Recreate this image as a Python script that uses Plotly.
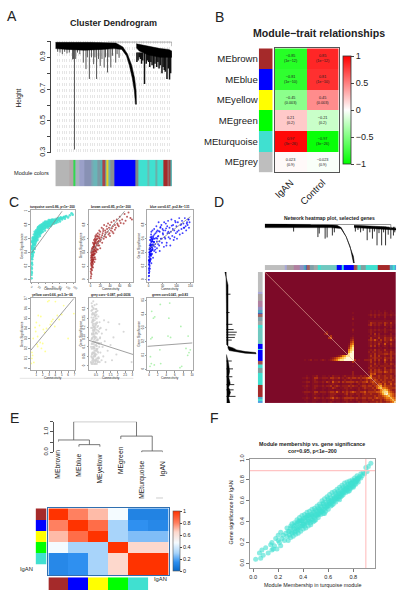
import plotly.graph_objects as go

W, H = 405, 600
FONT = "Liberation Sans, Arial, sans-serif"
INK = "#222222"

# ---------- panel A ----------
A_band_x = [0, 30, 52, 58, 62, 65.5, 68, 69.3, 69.6, 68.8, 67.8, 66, 63.5, 61, 57, 50, 40, 25, 10, 0]
A_band_h = [.995, .995, .99, .965, .92, .85, .77, .69, .605, .605, .69, .77, .85, .91, .95, .955, .95, .945, .95, .955]
A_right_x = [69.5, 73.1, 81.6, 90.1, 97.2, 100, 100, 90, 80, 72, 69.5]
A_right_h = [.985, .98, .97, .955, .95, .94, .9, .9, .915, .94, .96]
A_drop_x = [16.4, 14.8, 15.6, 17.5, 2, 4, 6, 8, 10, 12, 19, 21, 24, 26.3, 27.5, 29.2, 31, 32.9, 34, 35.4, 37, 38.5, 40, 41.9, 43, 44.8, 46, 47.6, 49, 51.8, 53, 54.7]
A_drop_h = [.32, .887, .89, .89, .935, .93, .92, .935, .925, .93, .93, .92, .867, .826, .9, .764, .9, .857, .9, .764, .89, .846, .89, .836, .9, .805, .9, .836, .91, .867, .92, .897]
A_rdrop_x = [70, 71, 72, 73, 74, 75, 76.5, 78, 79, 80, 81, 82, 83, 84.4, 85.5, 87, 88, 89, 90, 91.5, 92.5, 93.5, 94.3, 95.8, 97, 98, 99]
A_rdrop_h = [.87, .88, .9, .89, .86, .88, .733, .86, .88, .87, .84, .87, .85, .83, .86, .84, .87, .83, .85, .8, .84, .82, .81, .764, .83, .76, .8]
A_top_x = [45, 100, 100]
A_top_h = [.997, .997, .97]
A_colors = ["#b5b5b5", "#b2a8a8", "#32d850", "#a8b0c0", "#9aa0c8", "#8891b4", "#78a8b4", "#6ab5b8", "#7a9aa5", "#50b0b0",
            "#a8454a", "#60b8b8", "#e8d020", "#70b0b0", "#8a9090", "#0000ff", "#808888", "#40e0d0", "#70b8b0", "#40e0d0",
            "#6ab0a8", "#40e0d0", "#a52a2a", "#a06060", "#a52a2a", "#50b0b0"]
A_widths = [43, 10, 7, 13, 15, 20, 8, 12, 8, 7, 7, 5, 5, 8, 10, 65, 8, 27, 7, 18, 7, 16, 12, 7, 4, 4]

# ---------- panel B ----------
B_modules = ["MEbrown", "MEblue", "MEyellow", "MEgreen", "MEturquoise", "MEgrey"]
B_colors = ["#a52a2a", "#0000ff", "#ffff00", "#00ff00", "#40e0d0", "#bebebe"]
B_traits = ["IgAN", "Control"]
B_cor = [[-.85, .85], [-.81, .81], [-.45, .45], [.21, -.21], [.97, -.97], [.023, -.023]]
B_p = [["1e−12", "1e−12"], ["1e−10", "1e−10"], ["0.003", "0.003"], ["0.2", "0.2"], ["3e−26", "3e−26"], ["0.9", "0.9"]]

# ---------- panel C ----------
turq_x = [1,1,1,1,1,1,1,1,2,2,2,2,2,2,2,3,3,3,3,3,4,4,4,4,5,5,5,5,6,6,7,7,8,8,9,9,10,10,10,11,12,12,13,14,14,15,15,16,17,18,18,19,20,20,21,22,23,24,25,25,26,27,28,30,30,31,32,33,35,35,36,38,39,40,40,42,44,45,46,48,50,50,52,54,55,57,58,60,60,62,65,66,68,70,72,74,75,78,80,82,84,88,92,96,100,105,110,115,118,
          3,4,5,6,7,8,9,10,11,11,12,13,14,15,16,17,18,19,20,21,22,23,24,25,26,27,28,29,30,31,32,33,34,35,36,37,38,39,40,41,42,43,44,45,46,47,48,49,50,52,53,55,56,58,60,62,63,65,67,70,73,76,79,83,86,90,94,98,
          6,8,9,11,13,14,16,18,20,22,24,26,28,31,34,37,41,43,47,51,55,59,64,69,12,15,19,23,27,33,38,44,49,54,61]
turq_y = [.02,.07,.12,.18,.24,.3,.37,.45,.1,.16,.25,.33,.4,.48,.55,.22,.3,.38,.47,.57,.34,.42,.5,.6,.36,.44,.53,.62,.46,.56,.4,.6,.47,.66,.52,.62,.45,.58,.7,.64,.53,.68,.6,.56,.72,.63,.7,.66,.6,.58,.74,.68,.62,.77,.72,.66,.75,.7,.64,.79,.73,.77,.68,.72,.81,.76,.8,.7,.74,.83,.78,.8,.72,.76,.85,.82,.78,.85,.8,.76,.82,.87,.79,.84,.81,.86,.8,.83,.88,.85,.82,.88,.85,.83,.89,.86,.84,.9,.87,.85,.91,.88,.91,.89,.93,.91,.94,.97,.95,
          .45,.55,.5,.4,.52,.58,.6,.52,.6,.56,.6,.66,.62,.58,.7,.68,.64,.72,.7,.66,.74,.69,.76,.72,.68,.72,.75,.78,.74,.7,.76,.78,.74,.78,.82,.76,.8,.78,.8,.76,.78,.82,.82,.8,.84,.78,.82,.84,.78,.83,.81,.84,.82,.85,.85,.82,.87,.85,.85,.87,.87,.88,.89,.89,.9,.9,.92,.92,
          .51,.53,.57,.5,.56,.67,.62,.67,.74,.7,.67,.71,.71,.79,.8,.82,.84,.79,.81,.85,.78,.87,.83,.86,.63,.66,.76,.78,.79,.74,.77,.8,.8,.87,.86]
brown_x = [.5,.5,1,1,1,1,1.5,2,2,2,2,3,3,3,3,4,4,4,5,5,5,5,6,6,7,7,8,8,9,9,10,10,10,11,12,12,13,14,15,15,16,17,18,18,19,20,20,22,23,24,25,26,27,28,30,30,32,33,35,36,37,38,40,40,42,43,45,46,48,50,50,52,54,55,58,60,60,62,65,68,70,72,75,78,82,85,
           1.5,2.5,3,3.5,4,4.5,5,5.5,6,6.5,7,7.5,8,8.5,9,9.5,10,11,11.5,12.5,13,14,14.5,16,17,18.5,21,24,26,29,31,34,39,44,47,56,
           1,1.2,1.8,2.2,2.6,2.8,3.2,3.8,4.2,4.8,5.2,5.8,6.2,6.8,7.2,7.8,8.2,8.8,9.2,9.8,1.4,2.3,3.4,4.4,5.4,6.4,7.4,8.4,9.4,10.4,11.2,12.2,13.4,15.5,17.5,19.5]
brown_y = [.02,.12,.05,.16,.24,.32,.4,.08,.2,.3,.38,.14,.26,.36,.46,.2,.32,.44,.18,.28,.4,.54,.3,.48,.36,.58,.26,.44,.38,.6,.3,.48,.64,.54,.4,.66,.5,.6,.44,.68,.56,.63,.5,.72,.6,.46,.7,.62,.76,.54,.68,.74,.6,.8,.66,.72,.62,.78,.7,.82,.66,.76,.64,.8,.72,.84,.7,.78,.86,.73,.8,.76,.88,.82,.78,.86,.92,.83,.88,.82,.96,.86,.92,.98,.9,.88,
           .22,.34,.18,.3,.37,.26,.46,.35,.41,.29,.44,.51,.38,.47,.53,.43,.56,.46,.58,.52,.44,.55,.63,.5,.57,.66,.58,.65,.71,.63,.69,.74,.68,.75,.68,.8,
           .1,.28,.15,.26,.22,.41,.33,.24,.27,.36,.23,.42,.38,.47,.32,.53,.41,.33,.48,.42,.35,.43,.29,.37,.48,.52,.5,.55,.58,.62,.42,.59,.64,.53,.61,.56]
blue_x = [1,1,1,1,1,2,2,2,2,3,3,3,3,4,4,4,5,5,5,6,6,7,7,8,8,9,9,10,10,10,12,12,14,14,15,16,17,18,20,20,22,24,25,26,28,30,30,32,35,36,38,40,40,44,46,48,50,52,55,56,60,60,62,65,68,70,72,75,78,80,82,85,88,90,92,95,98,100,102,105,108,110,112,115,118,120,122,125,128,130,133,135,138,140,142,145,147,
          1.5,2.5,3.5,4.5,5.5,6.5,7.5,8.5,9.5,11,11,13,13,15,16,19,21,23,27,29,33,34,37,42,47,53,58,63,67,74,83,87,97,103,117,126,137,144,
          1,2,2.5,3,3.5,4,5,6,7,8,9,10,11,12,13,14,16,18,2,3,4,5,6,7,8,9,10,12,14,17,20,24,31,39,43,51,64,71,77,93]
blue_y = [0,.05,.1,.16,.22,.06,.14,.24,.34,.12,.22,.32,.44,.2,.3,.5,.16,.36,.58,.28,.46,.38,.62,.3,.52,.42,.66,.24,.48,.7,.38,.6,.46,.72,.56,.32,.64,.5,.42,.74,.6,.52,.68,.4,.78,.56,.46,.72,.64,.84,.5,.7,.42,.6,.8,.54,.74,.66,.48,.84,.6,.72,.82,.54,.68,.86,.62,.76,.5,.7,.88,.64,.8,.58,.72,.86,.68,.78,.6,.84,.72,.9,.66,.8,.74,.86,.68,.82,.76,.9,.78,.72,.84,.8,.88,.76,.84,
          .28,.4,.26,.41,.46,.35,.5,.41,.55,.44,.63,.5,.58,.44,.62,.55,.66,.48,.61,.7,.63,.52,.71,.76,.6,.72,.62,.75,.78,.68,.79,.74,.84,.7,.81,.76,.82,.88,
          .28,.29,.18,.26,.37,.38,.44,.52,.5,.42,.48,.56,.37,.51,.43,.59,.52,.6,.1,.4,.46,.27,.37,.31,.58,.35,.61,.47,.56,.5,.55,.44,.6,.56,.77,.68,.5,.7,.6,.62]
yellow_x = [.2,.3,.3,.4,.5,.6,.8,.9,1,1.1,1.2,1.2,1.3,1.5,1.6,1.7,1.8,2,2.1,2.3,2.4,2.6,2.8,3,3.2,3.4,3.6,3.9,4,4.3,4.6,5,5.3,6,6.9]
yellow_y = [.05,.16,.1,.13,.3,.06,.41,.37,.46,.24,.22,.32,.53,.43,.26,.52,.2,.25,.39,.36,.17,.4,.67,.68,.44,.47,.49,.42,.67,.53,.49,.54,.63,.3,.55]
grey_x = [.15,.16,.17,.18,.18,.19,.2,.2,.2,.21,.22,.22,.23,.24,.24,.25,.25,.26,.26,.27,.28,.28,.29,.3,.3,.31,.32,.32,.33,.34,.34,.35,.35,.36,.37,.37,.38,.38,.39,.4,.4,.41,.42,.42,.43,.44,.44,.45,.45,.46,.47,.48,.48,.49,.5,.5,.51,.52,.53,.54,.54,.55,.56,.57,.58,.58,.6,.6,.62,.62,.64,.65,.66,.68,.7,.7,.72,.74,.75,.78,.8,.82,.85,.88,.9,.95,1,1.05,1.1,1.15,1.2,1.3,1.35,1.5,1.6,1.7,1.9,2.1,2.4,2.95,
          .21,.33,.27,.44,.19,.38,.52,.24,.47,.31,.58,.36,.23,.41,.29,.55,.35,.49,.18,.43,.26,.61,.39,.32,.5,.22,.46,.37,.64,.28,.42,.54,.2,.34,.48,.25,.4,.57,.3,.45,.67,.36,.52,.23,.43,.6,.33,.47,.27,.39,.56,.31,.5,.71,.35,.44,.24,.41,.53,.29,.63,.37,.46,.22,.38,.59,.32,.51,.26,.42,.49,.34,.69,.28,.4,.55,.3,.45,.36,.62,.25,.48,.33,.43,.58,.39,.74,.27,.52,.35,.46,.3,.41,.66,.37,.54,.77,.31,.44,.6]
grey_y = [.02,.1,.2,.05,.29,.14,.01,.09,.33,.23,.06,.17,.27,.03,.12,.2,.31,.07,.24,.15,.01,.28,.1,.04,.19,.34,.13,.24,.07,.02,.17,.3,.1,.22,.05,.27,.14,.01,.19,.09,.32,.24,.03,.15,.11,.28,.06,.2,.01,.13,.25,.08,.17,.3,.03,.22,.11,.15,.06,.27,.19,.01,.12,.23,.04,.17,.09,.29,.14,.02,.21,.07,.26,.12,.04,.18,.1,.23,.02,.15,.07,.2,.12,.03,.17,.1,.05,.24,.13,.02,.19,.08,.23,.11,.03,.15,.06,.22,.18,.02,
          .045,.115,.215,.065,.255,.155,.085,.295,.025,.175,.135,.205,.315,.055,.245,.105,.165,.285,.015,.125,.235,.075,.195,.305,.035,.145,.265,.095,.185,.225,.055,.325,.115,.205,.015,.275,.155,.085,.24,.125,.045,.185,.3,.065,.21,.135,.255,.025,.165,.095,.225,.035,.175,.115,.275,.05,.145,.19,.08,.235,.02,.125,.26,.165,.07,.205,.1,.285,.04,.155,.215,.03,.12,.185,.06,.25,.09,.145,.205,.03,.115,.175,.05,.265,.135,.08,.195,.02,.105,.155,.225,.065,.125,.04,.185,.09,.145,.21,.055,.12]
green_x = [.2,.3,.4,.5,.6,.7,1,1.2,1.3,2.5,2.6,2.7,4.4,4.6,4.8,5,7.2,7.4,7.6,8.6,9,9.1,9.3,9.6]
green_y = [.02,.09,.22,.04,.42,.23,.37,.03,.38,.14,.47,.04,.24,.37,.48,.23,.01,.31,.02,.15,.1,.24,.12,.14]

C_trend_x = [[1, 88], [0, 70], [0, 150], [.1, 6.9], [0, 3.05], [-.4, 10.1]]
C_trend_y = [[.39, 1.0], [.4, 1.0], [.45, .92], [.18, .7], [.135, .06], [.165, .19]]

# ---------- panel D ----------
D_colors = ["#bebebe", "#a8a8d8", "#a8a0a0", "#b080a0", "#9090c0", "#50a8c0", "#4060c0", "#a06060", "#80a0a8", "#a0a8a8",
            "#40e0d0", "#70c8c0", "#40e0d0", "#0000ff", "#40e0d0", "#0000ff", "#a05050", "#809090", "#40e0d0", "#80a0a0",
            "#40e0d0", "#a52a2a", "#50a8c8", "#40e0d0", "#50a0e0"]
D_widths = [60, 7, 20, 20, 10, 7, 5, 7, 13, 12, 10, 48, 0, 14, 6, 32, 8, 4, 10, 15, 35, 37, 8, 6, 6]
D_top_band_x = [0, 30, 45, 55, 58.2, 62, 65, 67.5, 68.2, 67.6, 65, 62, 58, 50, 40, 25, 10, 0]
D_top_band_h = [1, .99, .98, .96, .9, .67, .42, .17, .0, .0, .42, .67, .88, .9, .9, .9, .9, .9]
D_right_x = [68, 75, 85, 92, 100, 100, 90, 80, 68]
D_right_h = [.96, .95, .93, .92, .88, .84, .86, .88, .9]
D_top_drop_x = [22, 40.5, 41.5, 46, 47.5, 51.5, 53, 69, 71, 73, 75, 78, 80, 82, 83.5, 85.5, 87, 89, 90.5, 92, 94, 96, 98, 99]
D_top_drop_h = [.8, .66, .75, .62, .65, .7, .78, .8, .84, .78, .82, .58, .78, .62, .8, .45, .76, .45, .78, .45, .72, .62, .7, .78]
D_link_x = [35, 96, 96]
D_link_h = [.98, .98, .88]
D_left_h = [1, .96, .95, .94, .88, .74, .62, .35, .02, .0, .35, .68, .86, .9, .9, .9, .9, 1]
D_left_p = [0, 0, 24, 55.5, 57, 58, 59.5, 60.8, 61.5, 62.5, 62, 61, 60, 58, 45, 30, 10, 0]
D_left2_h = [.95, .88, .85, .88, .83, .88, .82, .88, .84, .94]
D_left2_p = [63, 70, 76, 80, 85, 88, 92, 96, 100, 100]
D_left_drop_p = [17, 31, 40, 44, 46, 48, 50, 52, 68, 74, 80, 86, 90, 95]
D_left_drop_h = [.82, .85, .76, .72, .62, .66, .68, .78, .78, .74, .76, .7, .72, .66]
TOM_size = 66
TOM_rows = [
 (31, 30, "23"), (33, 32, "34"), (34, 33, "1"),
 (42, 36, "1235688"),
 (43, 33, "12345678999"),
 (44, 20, "1012011012101234578899999"),
 (45, 44, "3"), (47, 44, "1"), (50, 44, "2"), (51, 44, "2"),
 (52, 19, "0010011200110102111012111211121212"),
 (53, 19, "11210133112221332231212323323233455"),
 (54, 19, "001001210011011211101211211112123232"),
 (55, 19, "1122012211213214223132333323223342343"),
 (56, 19, "00100111001001121100111121012122122332"),
 (57, 19, "112101221121223123212223232212332332345"),
 (58, 19, "0110012100110113210112212111212322232467"),
 (59, 19, "00100110001001110110112111012112122232356"),
 (60, 19, "122211331222123324213232343223342333344578"),
 (61, 19, "0110012110110122211112312212212322322234689"),
 (62, 19, "00100111001001221100112121112122222232334567"),
 (63, 19, "112101322121223423212333332322332332343334556"),
 (64, 19, "0110011100110112111012212112112212232223234456"),
 (65, 19, "00100110001101210110112111012122212223232233458"),
]

# ---------- panel E ----------
E_leaves = ["MEbrown", "MEblue", "MEyellow", "MEgreen", "MEturquoise", "IgAN"]
E_tree_x = [0, 0, 1.5, 1.5, None, 1, 1, 2, 2, None, 4, 4, 5, 5, None, 3, 3, 4.5, 4.5, None, .75, .75, 3.75, 3.75]
E_tree_y = [.5, .6, .6, .37, None, .27, .37, .37, .27, None, -.02, .06, .06, -.02, None, .65, .79, .79, .06, None, .6, 1.5, 1.5, .79]
E_matrix = [[1, .8, .7, .47, .1, .1],
            [.8, 1, .85, .3, .15, .12],
            [.7, .85, 1, .3, .25, .25],
            [.47, .3, .3, 1, .65, .65],
            [.12, .15, .3, .65, 1, 1],
            [.12, .15, .3, .65, 1, 1]]
E_bar_colors = ["#a52a2a", "#0000ff", "#ffff00", "#00ff00", "#40e0d0"]

# ---------- panel F ----------
F_x = [.02,.06,.05,.07,.08,.1,.12,.14,.15,.15,.16,.17,.18,.19,.2,.2,.21,.22,.22,.23,.24,.25,.26,.27,.27,.28,.28,.29,.3,.3,.31,.31,.32,.32,.33,.33,.34,.34,.35,.35,.36,.36,.37,.37,.38,.38,.39,.39,.4,.4,.41,.41,.42,.42,.43,.43,.44,.44,.45,.45,.46,.46,.47,.47,.48,.48,.49,.49,.5,.5,.51,.51,.52,.52,.53,.53,.54,.54,.55,.55,.56,.56,.57,.57,.58,.58,.59,.59,.6,.6,.61,.61,.62,.62,.63,.63,.64,.64,.65,.65,.66,.66,.67,.67,.68,.68,.69,.69,.7,.7,.71,.71,.72,.72,.73,.73,.74,.74,.75,.75,.76,.76,.77,.77,.78,.78,.79,.79,.8,.8,.81,.81,.82,.82,.83,.83,.84,.84,.85,.86,.86,.87,.88,.89,.9,.91,.92,.94,
       .29,.31,.33,.34,.35,.36,.37,.38,.39,.4,.41,.42,.43,.44,.45,.46,.47,.48,.49,.5,.51,.52,.53,.54,.55,.56,.57,.58,.59,.6,.61,.62,.63,.64,.65,.66,.67,.68,.69,.7,.71,.72,.73,.74,.75,.76,.77,.78,.79,.8,.81,.82,.83,.84,.36,.39,.41,.44,.47,.49,.52,.55,.57,.6,.63,.66,.69,.72,.74,.77,.8,.3,.33,.37,.4,.43,.46,.5,.53,.56,.59,.62,.65,.68,.71,.75,.78,.82]
F_y = [.04,.05,.1,.13,.08,.15,.1,.18,.13,.2,.14,.17,.24,.14,.22,.27,.2,.17,.3,.24,.27,.22,.29,.26,.34,.22,.31,.27,.25,.36,.3,.38,.26,.34,.3,.39,.28,.37,.33,.42,.29,.4,.35,.44,.31,.41,.36,.46,.33,.43,.38,.47,.34,.44,.39,.49,.36,.46,.41,.5,.37,.47,.42,.52,.4,.49,.44,.53,.42,.51,.46,.55,.44,.53,.48,.57,.47,.55,.5,.6,.48,.57,.52,.62,.5,.59,.55,.64,.52,.62,.57,.66,.55,.63,.59,.68,.57,.65,.6,.69,.59,.67,.62,.71,.62,.69,.64,.73,.64,.71,.67,.75,.66,.73,.69,.77,.68,.74,.71,.78,.69,.76,.72,.79,.72,.77,.74,.8,.74,.79,.76,.82,.76,.8,.79,.84,.78,.82,.83,.82,.86,.84,.87,.86,.92,.88,.93,.96,
       .31,.29,.36,.31,.38,.34,.39,.36,.41,.38,.43,.4,.44,.42,.46,.43,.47,.45,.49,.46,.5,.48,.52,.5,.54,.52,.55,.54,.57,.56,.59,.58,.61,.6,.63,.62,.65,.64,.67,.66,.69,.7,.71,.71,.73,.73,.75,.76,.77,.77,.79,.79,.81,.81,.32,.41,.36,.4,.45,.41,.47,.5,.48,.6,.56,.64,.61,.68,.72,.7,.73,.34,.33,.41,.37,.46,.39,.47,.51,.58,.54,.6,.62,.67,.65,.7,.76,.78]
F_hline = .89
F_vline = .9

fig = go.Figure()
layout = dict(width=W, height=H, margin=dict(l=0, r=0, t=0, b=0), autosize=False, showlegend=False,
              paper_bgcolor="white", plot_bgcolor="white", font=dict(family=FONT, color=INK))
ann = []
shapes = []


def axes(i, l, t, r, b, xr, yr, xkw=None, ykw=None):
    base = dict(visible=False, showgrid=False, zeroline=False, fixedrange=True)
    xa = dict(base, domain=[l / W, r / W], range=xr, anchor=f"y{i}")
    ya = dict(base, domain=[1 - b / H, 1 - t / H], range=yr, anchor=f"x{i}")
    xa.update(xkw or {})
    ya.update(ykw or {})
    layout[f"xaxis{i}"] = xa
    layout[f"yaxis{i}"] = ya
    return dict(xaxis=f"x{i}", yaxis=f"y{i}")


def text(x, y, s, size, angle=0, bold=False, anchor="center", color=INK):
    ann.append(dict(x=x / W, y=1 - y / H, xref="paper", yref="paper", text=f"<b>{s}</b>" if bold else s,
                    showarrow=False, font=dict(size=size, family=FONT, color=color), textangle=angle,
                    xanchor=anchor, yanchor="middle"))


def stripe(ref, colors, widths=None, vertical=False):
    n = len(colors)
    edges = [0]
    for w in (widths or [1] * n):
        edges.append(edges[-1] + w)
    scale = []
    for k, c in enumerate(colors):
        scale += [[k / n, c], [(k + 1) / n, c]]
    idx = [k + .5 for k in range(n)]
    if vertical:
        tr = go.Heatmap(x=[0, 1], y=edges, z=[[v] for v in idx], zmin=0, zmax=n, colorscale=scale,
                        showscale=False, hoverinfo="skip", **ref)
    else:
        tr = go.Heatmap(x=edges, y=[0, 1], z=[idx], zmin=0, zmax=n, colorscale=scale,
                        showscale=False, hoverinfo="skip", **ref)
    fig.add_trace(tr)


def poly(ref, xs, ys, color="black"):
    fig.add_trace(go.Scatter(x=xs, y=ys, mode="lines", fill="toself", fillcolor=color,
                             line=dict(color=color, width=.5), hoverinfo="skip", **ref))


def drops(ref, xs, lows, top, color="#333333", width=1, swap=False):
    px, py = [], []
    for a, b in zip(xs, lows):
        px += [a, a, None]
        py += [top, b, None]
    if swap:
        px, py = py, px
    fig.add_trace(go.Scatter(x=px, y=py, mode="lines", line=dict(color=color, width=width), hoverinfo="skip", **ref))


# panel letters
for s, x, y in [("A", 10, 11), ("B", 220, 12), ("C", 12, 200), ("D", 220, 200), ("E", 13, 419), ("F", 215, 419)]:
    text(x, y, s, 14)

# ===== A =====
ra = axes(1, 54, 37, 172, 150, [0, 100], [.3, 1.0],
          xkw=dict(visible=True, showline=False, showticklabels=False, ticks="", showgrid=True, gridcolor="#e6e6e6",
                   griddash="dot", gridwidth=.6, dtick=2.0),
          ykw=dict(visible=True, anchor="free", position=49 / W, showline=True, linecolor="#444", linewidth=1,
                   ticks="outside", ticklen=3, tickcolor="#444", tickvals=[.3, .4, .5, .6, .7, .8, .9, 1.0],
                   ticktext=["0.3", "", "0.5", "", "0.7", "", "0.9", ""], tickangle=-90, tickfont=dict(size=7.2)))
drops(ra, A_drop_x, A_drop_h, .96, color="#555555", width=1)
drops(ra, A_rdrop_x, A_rdrop_h, .93, color="#111111", width=1.5)
poly(ra, A_band_x, A_band_h)
poly(ra, A_right_x, A_right_h)
fig.add_trace(go.Scatter(x=A_top_x, y=A_top_h, mode="lines", line=dict(color="#777", width=.8), hoverinfo="skip", **ra))
rb = axes(2, 54, 157, 172, 184, [0, 353], [0, 1])
stripe(rb, A_colors, A_widths)
text(113, 18, "Cluster Dendrogram", 9, bold=True)
text(30.3, 171, "Module colors", 5.6)
text(17, 94, "Height", 6.5, angle=-90)

# ===== B =====
rside = axes(3, 260, 44, 274, 170, [0, 1], [6, 0],
             ykw=dict(visible=True, showline=False, ticks="", tickvals=[.5, 1.5, 2.5, 3.5, 4.5, 5.5], ticktext=B_modules,
                      tickfont=dict(size=9.6), side="left"))
stripe(rside, B_colors, vertical=True)
rbm = axes(4, 276, 44, 341, 170, [-.5, 1.5], [5.5, -.5],
           xkw=dict(visible=True, showline=True, mirror=True, linecolor="#555", linewidth=1, ticks="",
                    tickvals=[0, 1], ticktext=B_traits, tickangle=-45, tickfont=dict(size=9.6), side="bottom"),
           ykw=dict(visible=True, showline=True, mirror=True, linecolor="#555", linewidth=1, ticks="", showticklabels=False))
fig.add_trace(go.Heatmap(
    x=[0, 1], y=list(range(6)), z=B_cor, zmin=-1, zmax=1,
    colorscale=[[0, "#00ff00"], [.5, "#ffffff"], [1, "#ff0000"]],
    text=[[f"{str(v).replace('-', '−')}<br>({p})" for v, p in zip(rv, rp)] for rv, rp in zip(B_cor, B_p)],
    texttemplate="%{text}", textfont=dict(size=3.8, color="#222"), hoverinfo="skip",
    colorbar=dict(x=345 / W, xanchor="left", xpad=0, ypad=0, y=1 - 52 / H, yanchor="top", len=110 / H, lenmode="fraction",
                  thickness=8, thicknessmode="pixels", outlinewidth=.8, outlinecolor="#333", ticks="outside", ticklen=3,
                  tickvals=[-1, -.5, 0, .5, 1], ticktext=["−1", "−0.5", "0", "0.5", "1"], tickfont=dict(size=9)),
    **rbm))
text(321, 28, "Module−trait relationships", 10.6, bold=True)

# ===== C =====
tiny = dict(size=2.8)


def small_ax(i, l, t, r, b, xr, yr, xticks, yticks):
    com = dict(visible=True, showline=True, mirror=True, linecolor="#aaa", linewidth=.6, ticks="outside", ticklen=1.5,
               tickwidth=.5, tickcolor="#999", tickfont=tiny)
    return axes(i, l, t, r, b, xr, yr, xkw=dict(com, tickvals=xticks),
                ykw=dict(com, tickvals=yticks, tickangle=-90))


panels = [
    (5, 29, 208, 74, 281, [-1.5, 125], [-.03, 1.02], [0, 20, 40, 60, 80, 100, 120], [0, .2, .4, .6, .8, 1], turq_x, turq_y, "#40e0d0", 2.6, .85),
    (6, 88, 208, 133, 281, [-3.3, 88], [-.03, 1.02], [0, 20, 40, 60, 80], [0, .2, .4, .6, .8], brown_x, brown_y, "#a52a2a", 2, .75),
    (7, 147, 208, 193, 281, [-5, 158], [-.03, 1.02], [0, 50, 100, 150], [0, .2, .4, .6, .8], blue_x, blue_y, "#0000ff", 1.9, .75),
    (8, 29, 297, 74, 371, [.1, 7.1], [-.02, .71], [1, 2, 3, 4, 5, 6, 7], [0, .1, .2, .3, .4, .5, .6, .7], yellow_x, yellow_y, "#ffff88", 1.8, .9),
    (9, 88, 297, 133, 371, [.01, 3.07], [-.024, .36], [.5, 1, 1.5, 2, 2.5, 3], [0, .05, .1, .15, .2, .25, .3], grey_x, grey_y, "#d0d0d0", 2.1, .85),
    (10, 147, 297, 193, 371, [-.46, 10.15], [-.01, .52], [0, 2, 4, 6, 8, 10], [0, .1, .2, .3, .4, .5], green_x, green_y, "#a8f0a8", 1.8, .9),
]
C_titles = ["turquoise cor=0.86, p&lt;1e−200", "brown cor=0.85, p&lt;1e−200", "blue cor=0.67, p=2.8e−131",
            "yellow cor=0.66, p=3.3e−06", "grey cor=−0.087, p=0.0036", "green cor=0.041, p=0.83"]
for k, (i, l, t, r, b, xr, yr, xt, yt, xs, ys, col, ms, op) in enumerate(panels):
    ref = small_ax(i, l, t, r, b, xr, yr, xt, yt)
    fig.add_trace(go.Scatter(x=xs, y=ys, mode="markers", marker=dict(color=col, size=ms, opacity=op, line=dict(width=0)),
                             hoverinfo="skip", **ref))
    fig.add_trace(go.Scatter(x=C_trend_x[k], y=C_trend_y[k], mode="lines", line=dict(color="#888", width=.8),
                             hoverinfo="skip", **ref))
    text((l + r) / 2, t - 2.5, C_titles[k], 3.2, bold=True)
    text((l + r) / 2, b + 7.5, "Connectivity", 3.2)
    text(l - 8.5, (t + b) / 2, "Gene Significance", 3.2, angle=-90)
shapes.append(dict(type="line", xref="paper", yref="paper", x0=18 / W, x1=133 / W, y0=1 - 379 / H, y1=1 - 379 / H,
                   line=dict(color="#dddddd", width=.8)))

# ===== D =====
rtop = axes(11, 266, 222, 399, 262, [0, 100], [0, 1])
drops(rtop, D_top_drop_x, D_top_drop_h, .92, color="#333333", width=1)
poly(rtop, D_top_band_x, D_top_band_h)
poly(rtop, D_right_x, D_right_h)
fig.add_trace(go.Scatter(x=D_link_x, y=D_link_h, mode="lines", line=dict(color="#777", width=.8), hoverinfo="skip", **rtop))
rbar = axes(12, 266, 264, 399, 269, [0, 399], [0, 1])
stripe(rbar, D_colors, D_widths)
rlb = axes(13, 259, 271, 264, 404, [0, 1], [399, 0])
stripe(rlb, D_colors, D_widths, vertical=True)
rheat = axes(14, 266, 271, 399, 404, [0, TOM_size], [TOM_size, 0])
tom = [[0] * TOM_size for _ in range(TOM_size)]
for r, start, digits in TOM_rows:
    for c, ch in enumerate(digits, start):
        if c <= r:
            tom[r][c] = tom[c][r] = int(ch)
edges = list(range(TOM_size + 1))
fig.add_trace(go.Heatmap(x=edges, y=edges, z=tom, zmin=0, zmax=9, showscale=False, hoverinfo="skip",
                         colorscale=[[0, "#7d0a28"], [1 / 9, "#861022"], [2 / 9, "#961c1a"], [3 / 9, "#b03212"],
                                     [4 / 9, "#cf5210"], [5 / 9, "#e87c14"], [6 / 9, "#f5a528"], [7 / 9, "#fac550"],
                                     [8 / 9, "#fde48c"], [1, "#fff8d8"]], **rheat))
fig.add_trace(go.Scatter(x=[0, TOM_size], y=[0, TOM_size], mode="lines", line=dict(color="#e9b8a0", width=.6),
                         hoverinfo="skip", **rheat))
rleft = axes(15, 225, 271, 258, 404, [1.02, -.02], [100, 0])
drops(rleft, D_left_drop_p, D_left_drop_h, .95, swap=True)
poly(rleft, D_left_h, D_left_p)
poly(rleft, D_left2_h, D_left2_p)
text(332, 216, "Network heatmap plot, selected genes", 5, bold=True)

# ===== E =====
rtree = axes(16, 56.7, 423, 162.7, 454, [0, 5], [0, 1.5],
             ykw=dict(visible=True, anchor="free", position=52 / W, showline=True, linecolor="#555", linewidth=.8,
                      ticks="outside", ticklen=3, tickcolor="#555", tickvals=[0, .5, 1, 1.5],
                      ticktext=["0.0", "", "1.0", ""], tickangle=-90, tickfont=dict(size=6)))
fig.add_trace(go.Scatter(x=E_tree_x, y=E_tree_y, mode="lines", cliponaxis=False, line=dict(color="#555", width=.8),
                         hoverinfo="skip", **rtree))
E_label_tops = [450, 453, 454, 446, 461, 461]
for k, leaf in enumerate(E_leaves):
    ann.append(dict(x=(56.7 + 21.2 * k) / W, y=1 - E_label_tops[k] / H, xref="paper", yref="paper", text=leaf, showarrow=False,
                    textangle=-90, xanchor="center", yanchor="top", font=dict(size=6.8, family=FONT, color=INK)))
rem = axes(17, 47, 511, 169, 579, [-.5, 5.5], [5.5, -.5],
           xkw=dict(visible=True, showline=True, mirror=True, linecolor="#2f6fb0", linewidth=1, ticks="", showticklabels=False),
           ykw=dict(visible=True, showline=True, mirror=True, linecolor="#2f6fb0", linewidth=1, ticks="", showticklabels=False))
fig.add_trace(go.Heatmap(
    x=list(range(6)), y=list(range(6)), z=E_matrix, zmin=0, zmax=1, hoverinfo="skip",
    colorscale=[[0, "#0868c8"], [.15, "#2f90f0"], [.3, "#a8d4fa"], [.47, "#f4fbff"], [.65, "#fdd8cc"], [.8, "#ff8060"], [1, "#ff3300"]],
    colorbar=dict(x=173 / W, xanchor="left", xpad=0, ypad=0, y=1 - 514 / H, yanchor="top", len=61 / H, lenmode="fraction",
                  thickness=7, thicknessmode="pixels", outlinewidth=.6, outlinecolor="#555", ticks="outside", ticklen=2,
                  tickvals=[0, .2, .4, .6, .8, 1], tickfont=dict(size=5.5)),
    **rem))
rel = axes(18, 34, 511, 45, 568.3, [0, 1], [5, 0])
stripe(rel, E_bar_colors, vertical=True)
reb = axes(19, 47, 581, 148, 594, [0, 5], [0, 1])
stripe(reb, E_bar_colors)
text(25, 573, "IgAN", 5.8)
text(160, 583, "IgAN", 5.8)
shapes.append(dict(type="line", xref="paper", yref="paper", x0=156 / W, x1=163 / W, y0=1 - 500.5 / H, y1=1 - 500.5 / H,
                   line=dict(color="#cccccc", width=1)))

# ===== F =====
box = dict(visible=True, showline=True, mirror=True, linecolor="#999", linewidth=1, ticks="outside", ticklen=3,
           tickcolor="#777", tickfont=dict(size=5.6))
rf = axes(20, 251, 461, 378, 572, [-.026, .976], [-.047, 1.0],
          xkw=dict(box, tickvals=[0, .2, .4, .6, .8], tickformat=".1f"),
          ykw=dict(box, tickvals=[0, .2, .4, .6, .8, 1], tickformat=".1f", tickangle=-90))
fig.add_trace(go.Scatter(x=F_x, y=F_y, mode="markers", marker=dict(color="#40e0d0", size=5, opacity=.6, line=dict(width=0)),
                         hoverinfo="skip", **rf))
fig.add_trace(go.Scatter(x=[-.026, .976], y=[F_hline, F_hline], mode="lines", line=dict(color="#ffc4c4", width=1.2), hoverinfo="skip", **rf))
fig.add_trace(go.Scatter(x=[F_vline, F_vline], y=[-.047, 1.0], mode="lines", line=dict(color="#ffc4c4", width=1.2), hoverinfo="skip", **rf))
text(314, 446, "Module membership vs. gene significance", 5.3, bold=True)
text(314, 453, "cor=0.95, p&lt;1e−200", 5.3, bold=True)
text(314, 589, "Module Membership in turquoise module", 5.4)
text(232, 515, "Gene significance for IgAN", 5.4, angle=-90)

layout["annotations"] = ann
layout["shapes"] = shapes
fig.update_layout(**layout)
fig.write_html("out.html", config={"displayModeBar": False}, post_script="document.body.style.margin='0';")
